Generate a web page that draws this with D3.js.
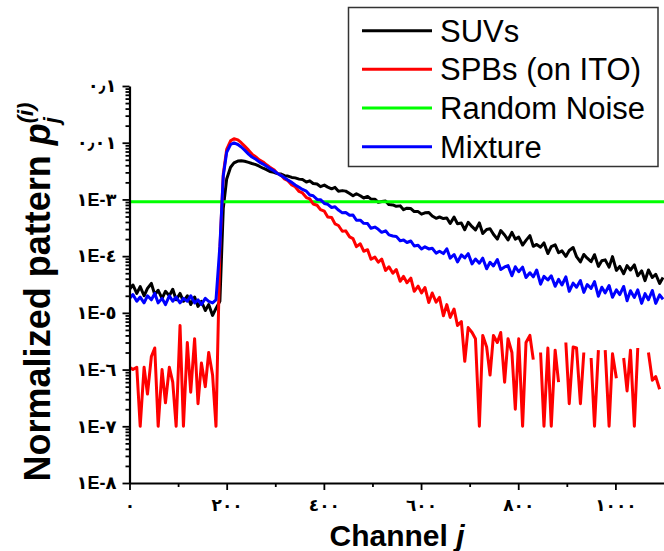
<!DOCTYPE html>
<html>
<head>
<meta charset="utf-8">
<script src="https://cdn.jsdelivr.net/npm/d3@7/dist/d3.min.js"></script>
<style>
  html, body { margin: 0; padding: 0; background: #ffffff; }
  svg { display: block; }
</style>
</head>
<body>
<svg id="chart" width="664" height="551"></svg>
<script>
// Channel index j of each sample
const channels = [
  0, 7, 15, 22, 30, 37, 45, 52, 59, 67, 74, 82, 89, 96, 104, 111, 119, 126, 134, 141,
  148, 156, 163, 171, 178, 186, 193, 200, 208, 215, 223, 230, 237, 245, 252, 260, 267, 275, 282, 289,
  297, 304, 312, 319, 326, 334, 341, 349, 356, 364, 371, 378, 386, 393, 401, 408, 416, 423, 430, 438,
  445, 453, 460, 467, 475, 482, 490, 497, 505, 512, 519, 527, 534, 542, 549, 557, 564, 571, 579, 586,
  594, 601, 608, 616, 623, 631, 638, 646, 653, 660, 668, 675, 683, 690, 697, 705, 712, 720, 727, 735,
  742, 749, 757, 764, 772, 779, 787, 794, 801, 809, 816, 824, 831, 838, 846, 853, 861, 868, 876, 883,
  890, 898, 905, 913, 920, 928, 935, 942, 950, 957, 965, 972, 979, 987, 994, 1002, 1009, 1017, 1024, 1031,
  1039, 1046, 1054, 1061, 1068, 1076, 1083, 1091, 1098
];

// Normalized pattern of the SUVs
const suvs = [
  2.6e-5, 3.1e-5, 2.2e-5, 2.9e-5, 2.0e-5, 2.7e-5, 3.3e-5, 2.1e-5, 2.5e-5, 1.8e-5,
  2.4e-5, 2.0e-5, 2.6e-5, 1.7e-5, 2.2e-5, 1.6e-5, 2.0e-5, 1.4e-5, 1.9e-5, 1.3e-5,
  1.6e-5, 1.1e-5, 1.4e-5, 9.0e-6, 1.2e-5, 1.6e-5, 7.0e-4, 2.3e-3, 3.7e-3, 4.4e-3,
  4.75e-3, 4.8e-3, 4.7e-3, 4.5e-3, 4.3e-3, 4.1e-3, 3.85e-3, 3.55e-3, 3.35e-3, 3.1e-3,
  3.0e-3, 2.85e-3, 2.8e-3, 2.62e-3, 2.58e-3, 2.44e-3, 2.4e-3, 2.28e-3,
  2.24e-3, 2.03e-3, 2.13e-3, 1.91e-3, 1.87e-3, 1.68e-3, 1.79e-3, 1.65e-3, 1.54e-3, 1.63e-3,
  1.40e-3, 1.43e-3, 1.40e-3, 1.27e-3, 1.16e-3, 1.26e-3, 1.16e-3, 1.06e-3, 1.13e-3, 1.01e-3,
  1.01e-3, 8.9e-4, 9.2e-4, 9.4e-4, 8.1e-4, 8.0e-4, 7.55e-4, 7.7e-4, 6.6e-4, 7.0e-4,
  6.9e-4, 6.1e-4, 6.1e-4, 5.5e-4, 5.8e-4, 5.9e-4, 5.1e-4, 4.65e-4, 4.9e-4, 4.6e-4,
  4.70e-4, 3.76e-4, 4.88e-4, 3.72e-4, 3.83e-4, 2.92e-4, 3.96e-4, 3.31e-4, 2.90e-4, 3.85e-4,
  2.50e-4, 2.96e-4, 3.04e-4, 2.43e-4, 1.99e-4, 2.82e-4, 2.36e-4, 1.93e-4, 2.62e-4, 2.0e-4,
  2.16e-4, 1.57e-4, 1.90e-4, 2.30e-4, 1.49e-4, 1.61e-4, 1.44e-4, 1.71e-4, 1.11e-4, 1.47e-4,
  1.58e-4, 1.15e-4, 1.24e-4, 9.9e-5, 1.26e-4,
  1.42e-4, 9.8e-5, 7.9e-5, 1.07e-4, 9.2e-5, 8.0e-5, 1.06e-4, 6.6e-5, 8.3e-5, 8.6e-5,
  6.4e-5, 9.8e-5, 5.6e-5, 6.6e-5, 4.9e-5, 6.8e-5, 5.7e-5, 7.0e-5, 4.5e-5, 5.5e-5,
  3.7e-5, 5.7e-5, 4.2e-5, 4.8e-5, 3.3e-5, 4.2e-5
];

// Normalized pattern of the SPBs on ITO (null: empty channel)
const spbs = [
  1.1e-6, 1.0e-6, 1.1e-6, 1.0e-7, 1.1e-6, 3.7e-7, 1.7e-6, 2.4e-6, 1.0e-7, 1.0e-6,
  2.6e-7, 1.1e-6, 6.0e-7, 1.0e-7, 6.0e-6, 1.0e-7, 3.0e-6, 4.0e-7, 3.5e-6, 2.5e-7,
  1.3e-6, 5.0e-7, 2.0e-6, 8.0e-7, 1.0e-7, 1.3e-4, 2.8e-3, 7.6e-3, 1.08e-2, 1.18e-2,
  1.12e-2, 1.0e-2, 8.7e-3, 7.4e-3, 6.3e-3, 5.6e-3, 5.0e-3, 4.57e-3, 4.07e-3, 3.7e-3,
  3.35e-3, 2.9e-3, 2.67e-3, 2.29e-3, 2.14e-3, 1.8e-3, 1.67e-3, 1.38e-3, 1.3e-3, 1.08e-3,
  1.02e-3, 8.3e-4, 7.9e-4, 6.6e-4, 6.2e-4, 4.9e-4, 4.8e-4, 3.7e-4, 3.47e-4, 2.75e-4,
  2.79e-4, 2.19e-4, 2.04e-4, 1.47e-4, 1.65e-4, 1.22e-4, 1.30e-4, 8.8e-5, 9.6e-5, 7.8e-5,
  8.9e-5, 5.6e-5, 6.5e-5, 5.0e-5, 5.8e-5, 3.6e-5, 4.4e-5, 3.4e-5, 4.1e-5, 2.4e-5,
  2.96e-5, 2.25e-5, 2.8e-5, 1.52e-5, 2.24e-5, 1.54e-5, 1.87e-5, 8.9e-6, 1.4e-5, 8.3e-6,
  1.17e-5, 6.0e-6, 7.0e-6, 1.4e-6, 5.5e-6, 4.5e-6, 3.5e-6, 1.0e-7, 4.0e-6, 2.5e-6,
  8.0e-7, 4.0e-6, 3.0e-6, 4.5e-6, 6.0e-7, 3.5e-6, 2.0e-6, 2.0e-7, 3.5e-6, 1.0e-7,
  3.0e-6, 4.0e-6, 1.5e-6, null, 2.0e-6, 1.0e-7, 2.4e-6, 1.0e-7, 2.2e-6, 6.0e-7,
  null, 3.0e-6, 2.5e-7, 2.5e-6, 2.4e-6, 2.5e-7, 2.0e-6, null, 1.6e-6, 1.0e-7,
  2.2e-6, null, 2.2e-6, 1.0e-7, 1.9e-6, 7.0e-7, null, 1.6e-6, 4.2e-7, 2.2e-6,
  1.0e-7, 2.4e-6, null, null, 2.0e-6, 6.5e-7, 7.5e-7, 4.5e-7, null
];

// Normalized pattern of the mixture
const mixture = [
  1.8e-5, 2.1e-5, 1.6e-5, 1.9e-5, 1.5e-5, 2.0e-5, 1.7e-5, 2.2e-5, 1.5e-5, 1.8e-5,
  1.4e-5, 2.0e-5, 1.6e-5, 1.9e-5, 1.5e-5, 1.8e-5, 1.6e-5, 2.0e-5, 1.5e-5, 1.7e-5,
  1.4e-5, 1.8e-5, 1.6e-5, 1.5e-5, 1.7e-5, 1.5e-4, 2.6e-3, 6.8e-3, 9.3e-3, 9.9e-3,
  9.3e-3, 8.4e-3, 7.4e-3, 6.3e-3, 5.6e-3, 5.1e-3, 4.6e-3, 4.2e-3, 3.85e-3, 3.5e-3,
  3.2e-3, 2.9e-3, 2.63e-3, 2.4e-3, 2.19e-3, 2.0e-3, 1.8e-3, 1.64e-3, 1.5e-3, 1.4e-3,
  1.2e-3, 1.16e-3, 1.0e-3, 9.9e-4, 8.5e-4, 8.2e-4, 7.2e-4, 7.4e-4, 6.5e-4, 5.8e-4,
  5.9e-4, 5.25e-4, 5.3e-4, 4.3e-4, 4.3e-4, 3.8e-4, 3.75e-4, 3.1e-4, 3.25e-4, 2.97e-4,
  2.63e-4, 2.8e-4, 2.37e-4, 2.27e-4, 2.23e-4, 1.86e-4, 1.93e-4, 1.74e-4, 1.85e-4, 1.51e-4,
  1.55e-4, 1.34e-4, 1.46e-4, 1.34e-4, 1.38e-4, 1.13e-4, 1.22e-4, 1.11e-4,
  1.35e-4, 9.2e-5, 1.07e-4, 7.9e-5, 1.05e-4, 9.3e-5, 1.11e-4, 7.3e-5, 8.9e-5, 7.5e-5,
  9.2e-5, 6.0e-5, 7.8e-5, 6.7e-5, 8.7e-5, 5.8e-5, 6.45e-5, 6.8e-5, 4.5e-5, 6.5e-5,
  5.3e-5, 6.4e-5, 4.2e-5, 5.1e-5, 4.3e-5, 5.7e-5, 3.2e-5, 4.4e-5, 3.8e-5, 4.5e-5,
  2.94e-5, 3.9e-5, 3.1e-5, 4.3e-5, 2.4e-5, 3.35e-5, 2.83e-5, 3.7e-5, 2.3e-5, 3.16e-5,
  2.7e-5, 3.56e-5, 1.96e-5, 2.83e-5, 2.25e-5, 3.04e-5, 1.88e-5, 2.54e-5, 2.1e-5, 2.92e-5,
  1.64e-5, 2.45e-5, 1.87e-5, 2.54e-5, 1.47e-5, 2.18e-5, 1.7e-5, 2.48e-5, 1.47e-5, 2.08e-5,
  1.74e-5
];

// Flat pattern of purely random noise
const randomNoise = 9.1e-4;

const xTickValues = [0, 200, 400, 600, 800, 1000];
const xTickLabels = ["٠", "٢٠٠", "٤٠٠", "٦٠٠", "٨٠٠", "١٠٠٠"];
const xMinorTicks = [100, 300, 500, 700, 900];
const yTickValues = [1e-1, 1e-2, 1e-3, 1e-4, 1e-5, 1e-6, 1e-7, 1e-8];
const yTickLabels = ["٠٫١", "٠٫٠١", "١E-٣", "١E-٤", "١E-٥", "١E-٦", "١E-٧", "١E-٨"];

const seriesNames = ["SUVs", "SPBs (on ITO)", "Random Noise", "Mixture"];
const seriesColors = ["#000000", "#ff0000", "#00ff00", "#0000ff"];

const svg = d3.select("#chart");
const plot = { left: 129.5, right: 664, top: 86, bottom: 483 };

const x = d3.scaleLinear().domain([0, 1100]).range([plot.left, plot.right]);
const y = d3.scaleLog().domain([1e-8, 1e-1]).range([plot.bottom, plot.top]);

svg.append("rect").attr("width", 664).attr("height", 551).attr("fill", "#ffffff");

svg.append("defs").append("clipPath").attr("id", "plotClip")
  .append("rect")
  .attr("x", plot.left).attr("y", plot.top - 4)
  .attr("width", plot.right - plot.left).attr("height", plot.bottom - plot.top + 4);

// series lines
const toPoints = vals => channels.map((c, i) => ({ c, v: vals[i] }));
const line = d3.line()
  .defined(d => d.v != null && d.v > 0)
  .x(d => x(d.c))
  .y(d => y(d.v));

const g = svg.append("g").attr("clip-path", "url(#plotClip)");

g.append("path").datum(toPoints(suvs))
  .attr("d", line).attr("fill", "none")
  .attr("stroke", seriesColors[0]).attr("stroke-width", 3).attr("stroke-linejoin", "round");

g.append("path").datum([{ c: 0, v: randomNoise }, { c: 1100, v: randomNoise }])
  .attr("d", line).attr("fill", "none")
  .attr("stroke", seriesColors[2]).attr("stroke-width", 3);

g.append("path").datum(toPoints(spbs))
  .attr("d", line).attr("fill", "none")
  .attr("stroke", seriesColors[1]).attr("stroke-width", 3).attr("stroke-linejoin", "round");

g.append("path").datum(toPoints(mixture))
  .attr("d", line).attr("fill", "none")
  .attr("stroke", seriesColors[3]).attr("stroke-width", 3).attr("stroke-linejoin", "round");

// axes
const tickFont = "'Liberation Sans', 'DejaVu Sans', Arial, sans-serif";

const yMinor = [];
yTickValues.slice(1).forEach(d => { for (let k = 2; k <= 9; k++) yMinor.push(d * k); });

const yAxisMinor = svg.append("g")
  .attr("transform", `translate(${plot.left},0)`)
  .call(d3.axisLeft(y).tickValues(yMinor).tickSize(4).tickSizeOuter(0).tickFormat(""));
yAxisMinor.select(".domain").remove();

const yAxis = svg.append("g")
  .attr("transform", `translate(${plot.left},0)`)
  .call(d3.axisLeft(y).tickValues(yTickValues).tickSize(7).tickSizeOuter(0).tickPadding(6)
    .tickFormat((d, i) => yTickLabels[i]));

const xAxisMinor = svg.append("g")
  .attr("transform", `translate(0,${plot.bottom})`)
  .call(d3.axisBottom(x).tickValues(xMinorTicks).tickSize(4).tickSizeOuter(0).tickFormat(""));
xAxisMinor.select(".domain").remove();

const xAxis = svg.append("g")
  .attr("transform", `translate(0,${plot.bottom})`)
  .call(d3.axisBottom(x).tickValues(xTickValues).tickSize(7).tickSizeOuter(0).tickPadding(9)
    .tickFormat((d, i) => xTickLabels[i]));

svg.selectAll(".domain").attr("stroke", "#000").attr("stroke-width", 2.2);
svg.selectAll(".tick line").attr("stroke", "#000").attr("stroke-width", 1.8);
svg.selectAll(".tick text")
  .attr("font-family", tickFont).attr("font-weight", "bold")
  .attr("font-size", 18).attr("fill", "#000");
xAxis.selectAll(".tick text").attr("font-size", 17);

// axis titles
const titleFont = "'Liberation Sans', Arial, sans-serif";

const xTitle = svg.append("text")
  .attr("x", 397).attr("y", 546)
  .attr("text-anchor", "middle")
  .attr("font-family", titleFont).attr("font-weight", "bold").attr("font-size", 30);
xTitle.append("tspan").text("Channel ");
xTitle.append("tspan").attr("font-style", "italic").text("j");

const yTitle = svg.append("text")
  .attr("transform", "translate(50,292) rotate(-90)")
  .attr("text-anchor", "middle")
  .attr("font-family", titleFont).attr("font-weight", "bold").attr("font-size", 36);
yTitle.append("tspan").text("Normalized pattern ");
yTitle.append("tspan").attr("font-style", "italic").text("p");
const sub = yTitle.append("tspan").attr("font-style", "italic").attr("font-size", 22)
  .attr("dy", 9).text("j");
const subW = sub.node().getComputedTextLength();
yTitle.append("tspan").attr("font-style", "italic").attr("font-size", 22)
  .attr("dx", -subW).attr("dy", -26).text("(i)");

// legend
const legend = svg.append("g");
legend.append("rect")
  .attr("x", 348.5).attr("y", 7.5).attr("width", 309.5).attr("height", 159)
  .attr("fill", "#ffffff").attr("stroke", "#333").attr("stroke-width", 1.5);

const rowY = d3.scaleLinear().domain([0, 3]).range([30.7, 146.7]);
seriesNames.forEach((name, i) => {
  legend.append("line")
    .attr("x1", 362).attr("x2", 432)
    .attr("y1", rowY(i)).attr("y2", rowY(i))
    .attr("stroke", seriesColors[i]).attr("stroke-width", 3);
  legend.append("text")
    .attr("x", 440).attr("y", rowY(i) + 11)
    .attr("font-family", titleFont).attr("font-size", 31).attr("fill", "#000")
    .text(name);
});
</script>
</body>
</html>
